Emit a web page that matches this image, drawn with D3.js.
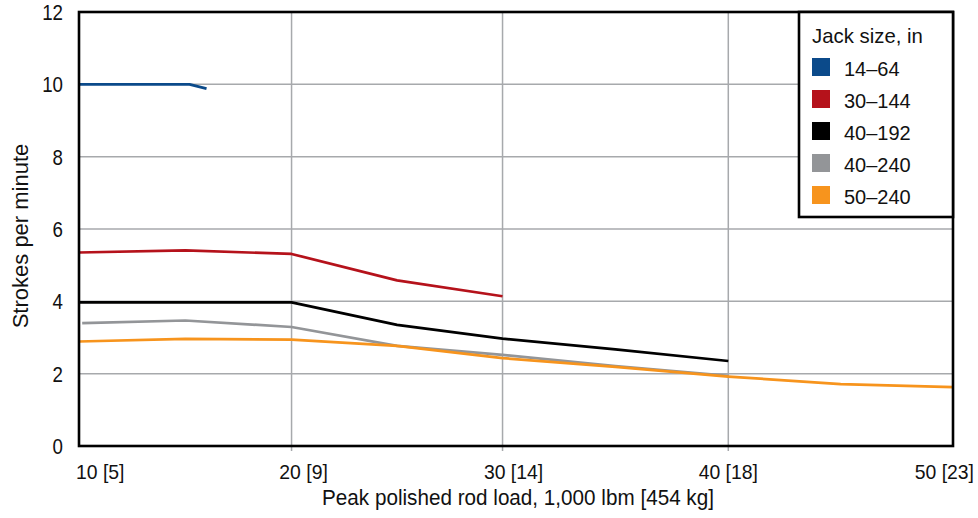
<!DOCTYPE html>
<html>
<head>
<meta charset="utf-8">
<script src="https://cdn.jsdelivr.net/npm/d3@7"></script>
<style>
  body { margin: 0; background: #fff; }
  svg text { font-family: "Liberation Sans", Arial, sans-serif; fill: #111; }
</style>
</head>
<body>
<svg width="978" height="518"></svg>
<script>
// load in 1,000 lbm
var loads = [10, 15, 20, 25, 30, 35, 40, 45, 50];
var xTickValues = [10, 20, 30, 40, 50];
var xTickLabels = ["10 [5]", "20 [9]", "30 [14]", "40 [18]", "50 [23]"];
var yTickValues = [0, 2, 4, 6, 8, 10, 12];

var jackSizes = ["14\u201364", "30\u2013144", "40\u2013192", "40\u2013240", "50\u2013240"];
var jackColors = ["#0b4a8a", "#b5121b", "#000000", "#939598", "#f7941d"];

// strokes per minute, per jack size
var spm1464 = [[10, 10.0], [15.2, 10.0], [16, 9.88]];
var spm30144 = [5.35, 5.41, 5.31, 4.58, 4.14];
var spm40192 = [3.97, 3.97, 3.97, 3.35, 2.97, 2.67, 2.35];
var spm40240 = [3.40, 3.47, 3.29, 2.77, 2.52, 2.21, 1.94];
var spm50240 = [2.89, 2.96, 2.94, 2.77, 2.43, 2.19, 1.92, 1.71, 1.63];

function pair(vals){ return vals.map(function(v, i){ return [loads[i], v]; }); }
var series = [spm1464, pair(spm30144), pair(spm40192), pair(spm40240), pair(spm50240)];
// start of the 40-240 line sits slightly right of the axis
series[3][0][0] = 10.15;

var svg = d3.select("svg");
var margin = {top: 12, right: 25, bottom: 72, left: 79};
var width = 978 - margin.left - margin.right,
    height = 518 - margin.top - margin.bottom;

var g = svg.append("g").attr("transform", "translate(" + margin.left + "," + margin.top + ")");

// x axis of the original is not quite evenly spaced
var x = d3.scaleLinear()
  .domain([10, 20, 30, 40, 50])
  .range([0, width * 0.2432, width * 0.4846, width * 0.7429, width]);
var y = d3.scaleLinear().domain([0, 12]).range([height, 0]);

// text helper, narrowed a bit to look like the condensed face of the original
function label(parent, px, py, str, size, anchor, sx, rot){
  var t = "translate(" + px + "," + py + ")" + (rot ? " rotate(" + rot + ")" : "") + " scale(" + sx + ",1)";
  return parent.append("text")
    .attr("transform", t)
    .attr("text-anchor", anchor)
    .style("font-size", size + "px")
    .text(str);
}

// grid
g.append("g").selectAll("line")
  .data(yTickValues.filter(function(d){ return d > 0 && d < 12; }))
  .enter().append("line")
  .attr("x1", 0).attr("x2", width)
  .attr("y1", function(d){ return y(d); }).attr("y2", function(d){ return y(d); })
  .attr("stroke", "#a7a9ac").attr("stroke-width", 1.5);
g.append("g").selectAll("line")
  .data(xTickValues.filter(function(d){ return d > 10 && d < 50; }))
  .enter().append("line")
  .attr("x1", function(d){ return x(d); }).attr("x2", function(d){ return x(d); })
  .attr("y1", 0).attr("y2", height + 5)
  .attr("stroke", "#a7a9ac").attr("stroke-width", 1.5);

// lines
var line = d3.line().x(function(d){ return x(d[0]); }).y(function(d){ return y(d[1]); });
g.selectAll("path.series")
  .data(d3.range(series.length))
  .enter().append("path")
  .attr("class", "series")
  .attr("d", function(i){ return line(series[i]); })
  .attr("fill", "none")
  .attr("stroke", function(i){ return jackColors[i]; })
  .attr("stroke-width", 2.7)
  .attr("stroke-linejoin", "round");

// frame
g.append("rect")
  .attr("x", 0).attr("y", 0).attr("width", width).attr("height", height)
  .attr("fill", "none").attr("stroke", "#000").attr("stroke-width", 2.6);

// y ticks
yTickValues.forEach(function(d){
  label(g, -16, y(d) + 8, d, 22, "end", 0.85);
});

// x ticks
xTickValues.forEach(function(d, i){
  var px = x(d), anchor = "middle";
  if(i == 0){ px = x(d) - 3; anchor = "start"; }
  else if(i == xTickValues.length - 1){ px = x(d) + 21; anchor = "end"; }
  else px = x(d) + [0, 12, 11, 0][i];
  label(g, px, height + 33, xTickLabels[i], 20, anchor, 0.97);
});

// axis titles
label(svg, 518, 505, "Peak polished rod load, 1,000 lbm [454 kg]", 22, "middle", 0.94);
label(svg, 28, 236, "Strokes per minute", 22, "middle", 1, -90);

// legend
var leg = svg.append("g").attr("transform", "translate(799,12)");
leg.append("rect")
  .attr("x", 0).attr("y", 0).attr("width", 154).attr("height", 205)
  .attr("fill", "#fff").attr("stroke", "#000").attr("stroke-width", 2.6);
label(leg, 13, 31, "Jack size, in", 21, "start", 0.97);
jackSizes.forEach(function(d, i){
  var row = leg.append("g").attr("transform", "translate(13," + (46 + i * 32) + ")");
  row.append("rect")
    .attr("width", 18).attr("height", 18)
    .attr("fill", jackColors[i]);
  label(row, 32, 18, d, 20, "start", 1);
});
</script>
</body>
</html>
